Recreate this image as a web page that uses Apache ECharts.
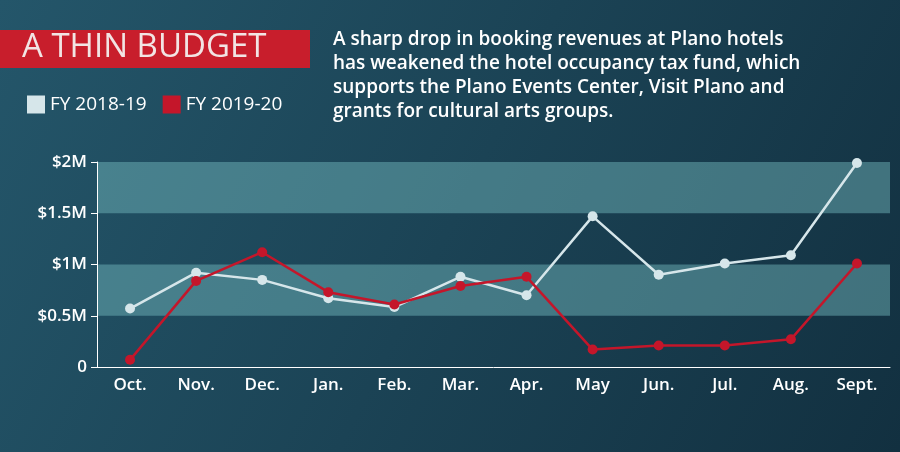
<!DOCTYPE html>
<html><head><meta charset="utf-8">
<script src="https://cdn.jsdelivr.net/npm/echarts@6/dist/echarts.min.js"></script>
<style>html,body{margin:0;padding:0}#c{width:900px;height:452px}</style>
</head><body><div id="c"></div>
<script>
const months = ["Oct.", "Nov.", "Dec.", "Jan.", "Feb.", "Mar.", "Apr.", "May", "Jun.", "Jul.", "Aug.", "Sept."];
const fy1819 = [0.57, 0.92, 0.85, 0.67, 0.585, 0.88, 0.70, 1.47, 0.90, 1.01, 1.09, 1.99];
const fy1920 = [0.07, 0.84, 1.12, 0.73, 0.61, 0.79, 0.88, 0.17, 0.21, 0.21, 0.27, 1.01];
const yTicks = {0: "0", 0.5: "$0.5M", 1: "$1M", 1.5: "$1.5M", 2: "$2M"};

const chart = echarts.init(document.getElementById("c"));
const font = "'Open Sans', sans-serif";
chart.setOption({
  backgroundColor: new echarts.graphic.LinearGradient(0, 0, 1, 1, [
    {offset: 0, color: "#24566a"}, {offset: 1, color: "#123040"}
  ]),
  textStyle: {fontFamily: font},
  graphic: [
    {type: "rect", left: 0, top: 30, shape: {width: 310, height: 38}, style: {fill: "#c81e2c"}},
    {type: "text", left: 22, top: 31, style: {text: "A THIN BUDGET", fill: "#f2e4e4", font: "33px 'Liberation Sans Narrow', 'Open Sans', sans-serif",
      shadowColor: "rgba(0,0,0,0.6)", shadowOffsetX: 2, shadowOffsetY: 2, shadowBlur: 2}},
    {type: "text", left: 333, top: 28, style: {text: "A sharp drop in booking revenues at Plano hotels\nhas weakened the hotel occupancy tax fund, which\nsupports the Plano Events Center, Visit Plano and\ngrants for cultural arts groups.",
      fill: "#ffffff", font: "600 19px 'Open Sans', sans-serif", lineHeight: 24}}
  ],
  legend: {
    left: 22, top: 90, itemGap: 16, itemWidth: 18, itemHeight: 18, icon: "rect",
    textStyle: {color: "#ffffff", fontSize: 19, fontFamily: font},
    data: ["FY 2018-19", "FY 2019-20"]
  },
  grid: {left: 97, right: 10, top: 162, bottom: 85},
  xAxis: {
    type: "category", data: months, boundaryGap: true,
    axisLine: {lineStyle: {color: "#ffffff", width: 1}}, axisTick: {show: false},
    axisLabel: {color: "#ffffff", fontSize: 17, fontWeight: 600, margin: 10, fontFamily: font}
  },
  yAxis: {
    type: "value", min: 0, max: 2, interval: 0.5,
    axisLine: {show: true, lineStyle: {color: "#ffffff"}}, axisTick: {show: true, length: 6, lineStyle: {color: "#ffffff"}},
    splitLine: {show: false},
    splitArea: {show: true, areaStyle: {color: ["rgba(0,0,0,0)", "rgba(120,190,195,0.45)"]}},
    axisLabel: {color: "#ffffff", fontSize: 17, fontWeight: 600, margin: 10, fontFamily: font, formatter: v => yTicks[v]}
  },
  series: [
    {name: "FY 2018-19", type: "line", data: fy1819, symbol: "circle", symbolSize: 10,
      lineStyle: {color: "#d6e6ea", width: 2.5}, itemStyle: {color: "#d6e6ea"}},
    {name: "FY 2019-20", type: "line", data: fy1920, symbol: "circle", symbolSize: 10,
      lineStyle: {color: "#c4162a", width: 2.5}, itemStyle: {color: "#c4162a"}}
  ]
});
</script></body></html>
